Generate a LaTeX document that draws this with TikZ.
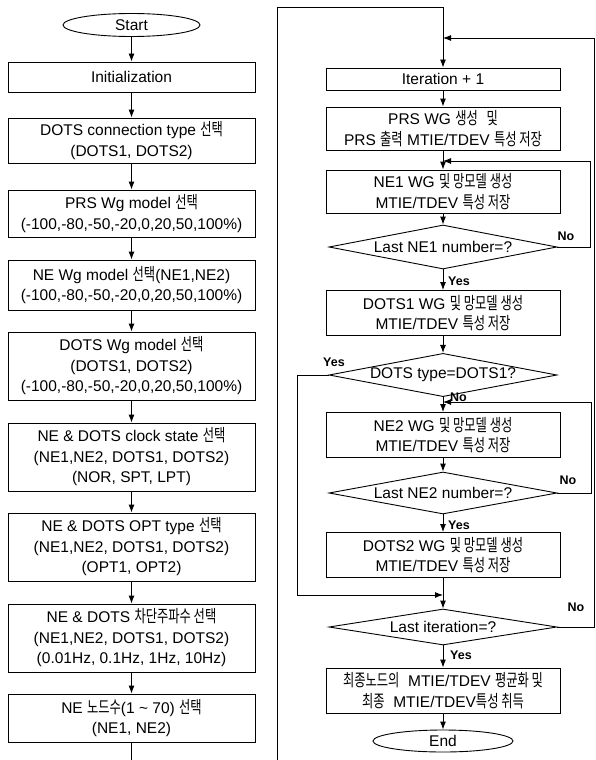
\documentclass[tikz,border=0pt]{standalone}
\usepackage{fontspec}
\setmainfont{Liberation Sans}
\newfontfamily\krfont{Noto Sans CJK KR}[Scale=1.1,FakeStretch=0.72]
\newcommand\kor[1]{{\krfont #1}}
\usetikzlibrary{shapes.geometric,arrows.meta}
\tikzset{
  base/.style={draw, line width=0.9pt, inner sep=0pt, align=center,
    font=\fontsize{15.5}{20.5}\selectfont},
  lbox/.style={base, rectangle, minimum width=247pt},
  rbox/.style={base, rectangle, minimum width=234pt, minimum height=45pt},
  dec/.style={base, diamond, aspect=5, minimum width=228pt},
  term/.style={base, ellipse, minimum width=137pt, minimum height=23pt},
  flow/.style={line width=0.9pt},
  arr/.style={flow, -{Latex[length=8pt,width=6pt]}},
  lab/.style={font=\bfseries\fontsize{12.5}{14}\selectfont, inner sep=1pt}
}
\begin{document}
\begin{tikzpicture}[x=1pt,y=-1pt]
\fill[white] (0,0) rectangle (596,760);
\useasboundingbox (0,0) rectangle (596,760);

% ---------- left column ----------
\node[term] (start) at (131.5,25) {Start};
\node[lbox, minimum height=30pt] (init) at (131.5,77) {Initialization};
\node[lbox, minimum height=45pt] (conn) at (131.5,140.5)
  {DOTS connection type \kor{선택}\\(DOTS1, DOTS2)};
\node[lbox, minimum height=47pt] (prs) at (131.5,213.5)
  {PRS Wg model \kor{선택}\\(-100,-80,-50,-20,0,20,50,100\%)};
\node[lbox, minimum height=50pt] (newg) at (131.5,285)
  {NE Wg model \kor{선택}(NE1,NE2)\\(-100,-80,-50,-20,0,20,50,100\%)};
\node[lbox, minimum height=68pt] (dotswg) at (131.5,366)
  {DOTS Wg model \kor{선택}\\(DOTS1, DOTS2)\\(-100,-80,-50,-20,0,20,50,100\%)};
\node[lbox, minimum height=68pt] (clock) at (131.5,457)
  {NE \& DOTS clock state \kor{선택}\\(NE1,NE2, DOTS1, DOTS2)\\(NOR, SPT, LPT)};
\node[lbox, minimum height=68pt] (opt) at (131.5,547)
  {NE \& DOTS OPT type \kor{선택}\\(NE1,NE2, DOTS1, DOTS2)\\(OPT1, OPT2)};
\node[lbox, minimum height=68pt] (cut) at (131.5,638)
  {NE \& DOTS \kor{차단주파수 선택}\\(NE1,NE2, DOTS1, DOTS2)\\(0.01Hz, 0.1Hz, 1Hz, 10Hz)};
\node[lbox, minimum height=48pt] (nodes) at (131.5,718)
  {NE \kor{노드수}(1 \textasciitilde{} 70) \kor{선택}\\(NE1, NE2)};

\draw[arr] (start) -- (init);
\draw[arr] (init) -- (conn);
\draw[arr] (conn) -- (prs);
\draw[arr] (prs) -- (newg);
\draw[arr] (newg) -- (dotswg);
\draw[arr] (dotswg) -- (clock);
\draw[arr] (clock) -- (opt);
\draw[arr] (opt) -- (cut);
\draw[arr] (cut) -- (nodes);

\coordinate (bl) at (131.5,760);
\coordinate (br) at (277,760);
\coordinate (tl) at (277,7);
\coordinate (tr) at (443,7);
\draw[flow] (nodes.south) -- (bl);

% ---------- right column ----------
\node[rbox, minimum height=22pt] (iter) at (443,79) {Iteration + 1};
\node[rbox, minimum height=43pt] (prswg) at (443,128.5)
  {PRS WG \kor{생성}\ \ \kor{및}\\PRS \kor{출력} MTIE/TDEV \kor{특성 저장}};
\node[rbox, minimum height=43pt] (ne1) at (443,191.5)
  {NE1 WG \kor{및 망모델 생성}\\MTIE/TDEV \kor{특성 저장}};
\node[dec, minimum height=44pt] (last1) at (443,247) {Last NE1 number=?};
\node[rbox] (dots1) at (443,313)
  {DOTS1 WG \kor{및 망모델 생성}\\MTIE/TDEV \kor{특성 저장}};
\node[dec, minimum height=40pt] (dtype) at (443,375) {DOTS type=DOTS1?};
\node[rbox] (ne2) at (443,435)
  {NE2 WG \kor{및 망모델 생성}\\MTIE/TDEV \kor{특성 저장}};
\node[dec, minimum height=42pt] (last2) at (443,493) {Last NE2 number=?};
\node[rbox] (dots2) at (443,555)
  {DOTS2 WG \kor{및 망모델 생성}\\MTIE/TDEV \kor{특성 저장}};
\node[dec, minimum height=36pt] (lastit) at (443,627) {Last iteration=?};
\node[rbox] (final) at (443,690.5)
  {\kor{최종노드의}\ \ MTIE/TDEV \kor{평균화 및}\\\kor{최종}\ \ MTIE/TDEV\kor{특성 취득}};
\node[term, minimum width=140pt, minimum height=22pt] (end) at (443,741) {End};

% entry from the left column
\draw[arr] (br) -- (tl) -- (tr) -- (iter.north);

\draw[arr] (iter) -- (prswg);
\draw[arr] (prswg) -- (ne1);
\draw[arr] (ne1) -- (last1);
\draw[arr] (last1) -- (dots1);
\draw[arr] (dots1) -- (dtype);
\draw[arr] (dtype) -- (ne2);
\draw[arr] (ne2) -- (last2);
\draw[arr] (last2) -- (dots2);
\draw[arr] (dots2) -- (lastit);
\draw[arr] (lastit) -- (final);
\draw[arr] (final) -- (end);

% loops
\coordinate (r1) at (590,161);
\coordinate (j1) at (443,161);
\draw[arr] (last1.east) -| (r1) -- (j1);
\coordinate (r2) at (591,402);
\coordinate (j2) at (443,402);
\draw[arr] (last2.east) -| (r2) -- (j2);
\coordinate (r0) at (594.5,38);
\coordinate (j0) at (443,38);
\draw[arr] (lastit.east) -| (r0) -- (j0);
\coordinate (yb) at (297,595);
\coordinate (j3) at (443,595);
\draw[arr] (dtype.west) -| (yb) -- (j3);

% labels
\node[lab] at (566,236) {No};
\node[lab, anchor=west] at (447,281) {Yes};
\node[lab] at (334,362) {Yes};
\node[lab, anchor=west] at (449,397) {No};
\node[lab] at (568,480) {No};
\node[lab, anchor=west] at (447,525) {Yes};
\node[lab] at (576,607) {No};
\node[lab, anchor=west] at (449,655) {Yes};
\end{tikzpicture}
\end{document}
